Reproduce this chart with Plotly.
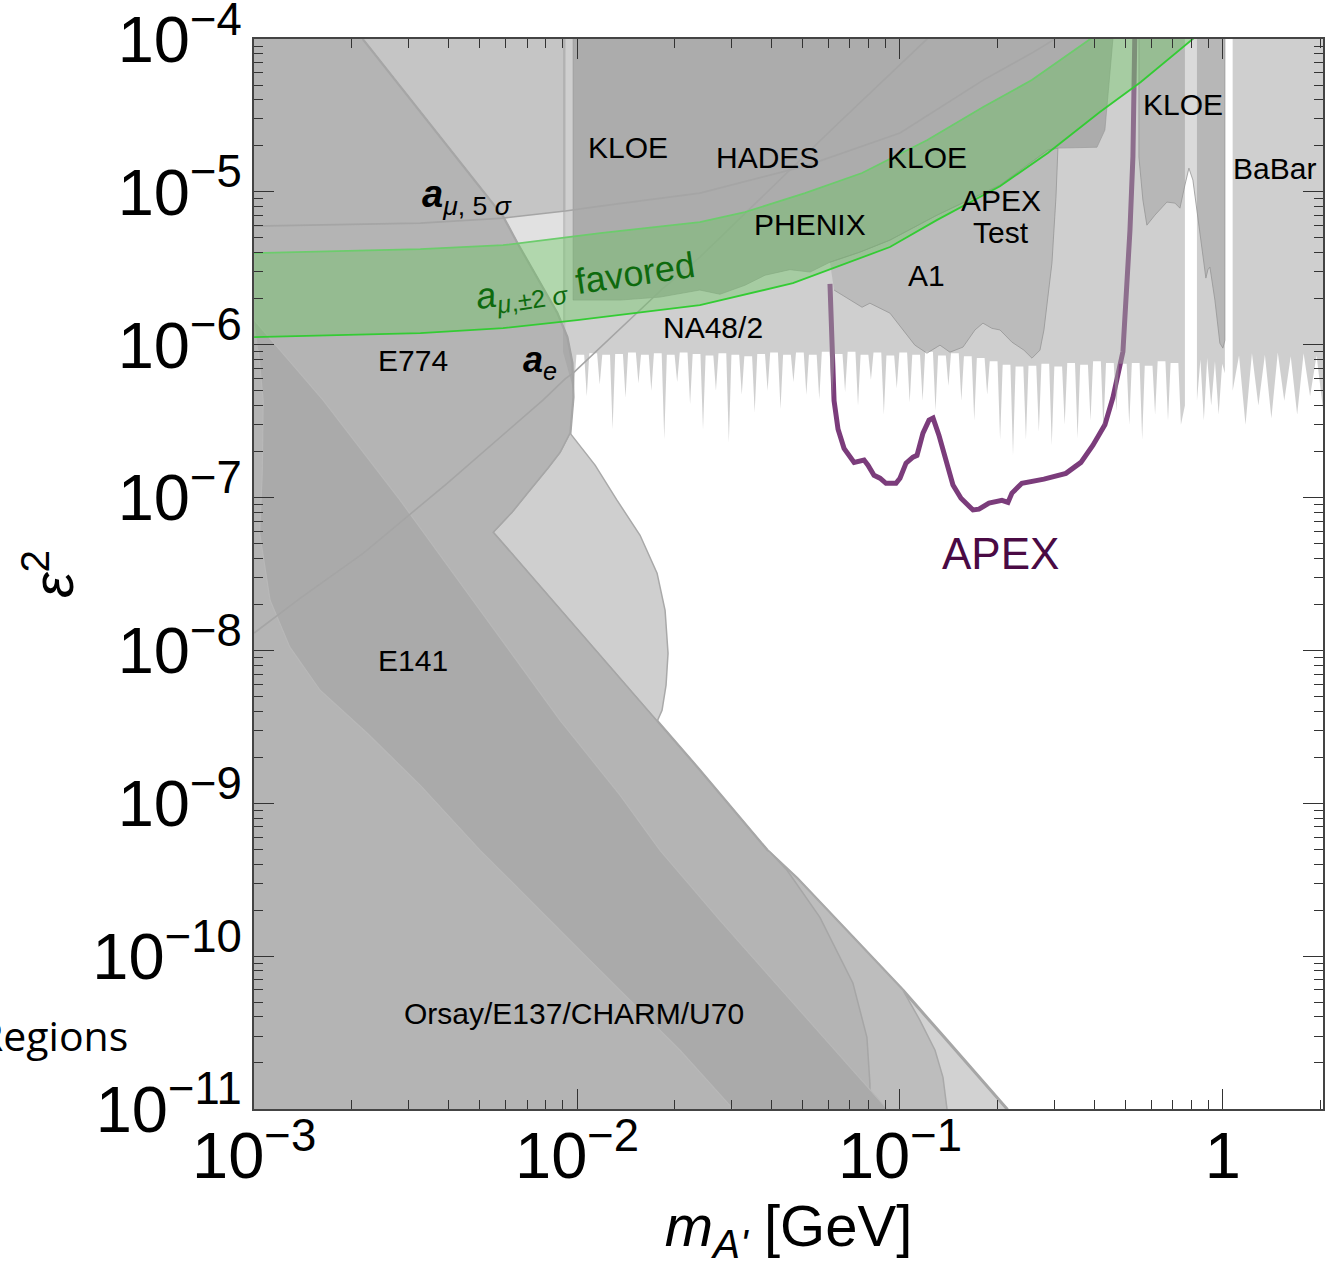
import math
import plotly.graph_objects as go

# ---------------- data (m in GeV, eps^2) ----------------
# APEX projected reach
apex_m = [0.0607, 0.0625, 0.0643, 0.0671, 0.0721, 0.0774, 0.0796, 0.0831, 0.0867, 0.0905,
          0.0972, 0.1, 0.1044, 0.1097, 0.1129, 0.1178, 0.1230, 0.1266, 0.1320, 0.1378,
          0.1459, 0.1545, 0.1683, 0.1756, 0.1886, 0.2069, 0.2160, 0.2222, 0.2385, 0.2791,
          0.3265, 0.3634, 0.3959, 0.4311, 0.4564, 0.4902, 0.5154, 0.5265, 0.5341]
apex_eps2 = [2.5e-6, 4.3e-7, 2.8e-7, 2.1e-7, 1.70e-7, 1.76e-7, 1.63e-7, 1.40e-7, 1.34e-7, 1.24e-7,
             1.24e-7, 1.34e-7, 1.68e-7, 1.84e-7, 1.89e-7, 2.64e-7, 3.21e-7, 3.31e-7, 2.56e-7, 1.84e-7,
             1.21e-7, 9.9e-8, 8.3e-8, 8.4e-8, 9.2e-8, 9.6e-8, 9.3e-8, 1.07e-7, 1.24e-7, 1.32e-7,
             1.44e-7, 1.70e-7, 2.20e-7, 3.0e-7, 4.5e-7, 9.0e-7, 5.6e-6, 1.7e-5, 1.2e-4]

# a_e boundary
ae_m = [1.0e-3, 1.39e-3, 2.18e-3, 3.96e-3, 7.84e-3, 9.2e-3, 9.72e-3, 0.0185, 0.0240, 0.0625, 0.1212, 0.15]
ae_eps2 = [1.30e-8, 2.20e-8, 4.33e-8, 1.24e-7, 4.34e-7, 6.0e-7, 6.52e-7, 2.35e-6, 3.74e-6, 2.65e-5, 1.0e-4, 1.5e-4]

# a_mu 5 sigma boundary
amu5_m = [1.0e-3, 3.27e-3, 5.90e-3, 9.2e-3, 0.0118, 0.0240, 0.0508, 0.100, 0.181, 0.256, 0.336]
amu5_eps2 = [5.97e-6, 6.25e-6, 6.74e-6, 7.5e-6, 8.07e-6, 9.82e-6, 1.475e-5, 2.43e-5, 5.39e-5, 8.10e-5, 1.15e-4]

# a_mu +-2 sigma favoured band
amu_up_m = [1.0e-3, 3.27e-3, 5.90e-3, 0.0118, 0.0240, 0.0331, 0.0508, 0.0763, 0.1212, 0.181, 0.256, 0.396]
amu_up_eps2 = [3.98e-6, 4.22e-6, 4.48e-6, 5.38e-6, 6.34e-6, 7.37e-6, 9.82e-6, 1.33e-5, 2.18e-5, 3.59e-5, 5.39e-5, 1.03e-4]
amu_lo_m = [1.0e-3, 3.27e-3, 5.90e-3, 0.0100, 0.0240, 0.0466, 0.0931, 0.130, 0.204, 0.287, 0.416, 0.557, 0.813]
amu_lo_eps2 = [1.12e-6, 1.19e-6, 1.285e-6, 1.45e-6, 1.815e-6, 2.53e-6, 4.36e-6, 6.54e-6, 1.09e-5, 1.795e-5, 3.33e-5, 5.24e-5, 1.015e-4]

# E774 edge (upper right side, then lower side)
e774_m = [2.13e-3, 2.175e-3, 3.58e-3, 5.90e-3, 6.52e-3, 7.68e-3, 8.67e-3, 9.31e-3, 9.65e-3, 9.72e-3, 9.51e-3,
          8.86e-3, 8.13e-3, 7.15e-3, 6.29e-3, 5.50e-3]
e774_eps2 = [1.1e-4, 9.85e-5, 2.62e-5, 6.84e-6, 4.62e-6, 2.53e-6, 1.61e-6, 1.12e-6, 7.58e-7, 4.54e-7, 2.64e-7,
             1.98e-7, 1.56e-7, 1.12e-7, 8.02e-8, 5.94e-8]

# beam dump outer edge (Orsay/E137/CHARM/U70)
dump_m = [8.86e-3, 0.01459, 0.0240, 0.0388, 0.0480, 0.0715, 0.1022, 0.1398, 0.2145, 0.23]
dump_eps2 = [1.86e-8, 5.49e-9, 1.64e-9, 4.92e-10, 3.23e-10, 1.33e-10, 5.97e-11, 2.81e-11, 1.0e-11, 5e-12]
dump_mid_m = [0.1153, 0.1284, 0.1359, 0.1398, 0.1398]
dump_mid_eps2 = [3.8e-11, 2.42e-11, 1.61e-11, 1.0e-11, 5e-12]
dump_in_m = [0.0396, 0.0447, 0.0565, 0.0715, 0.0790, 0.0807, 0.0807]
dump_in_eps2 = [4.78e-10, 3.64e-10, 1.79e-10, 6.64e-11, 2.94e-11, 1.47e-11, 5e-12]

# E141 outer bulge
e141_m = [9.51e-3, 0.01137, 0.01329, 0.01567, 0.01769, 0.01873, 0.01913, 0.01886, 0.01833, 0.01683,
          0.01358, 7.68e-3, 5.50e-3]
e141_eps2 = [2.64e-7, 1.63e-7, 9.62e-8, 5.67e-8, 3.20e-8, 1.83e-8, 9.59e-9, 5.92e-9, 4.06e-9, 2.70e-9,
             1.91e-9, 4.72e-9, 5.94e-8]

# E141 inner band
band_m = [1.0e-3, 1.635e-3, 2.83e-3, 5.01e-3, 8.86e-3, 0.01358, 0.01807, 0.0277, 0.0490, 0.0912, 0.095,
          0.029, 0.0304, 0.02084, 0.01178, 6.66e-3, 5.01e-3, 3.27e-3, 2.24e-3, 1.60e-3, 1.29e-3, 1.12e-3,
          1.04e-3, 1.06e-3, 1.066e-3, 1.03e-3]
band_eps2 = [1.45e-6, 4.34e-7, 9.62e-8, 1.83e-8, 3.49e-9, 1.13e-9, 4.92e-10, 1.71e-10, 4.42e-11, 1.0e-11, 5e-12,
             5e-12, 1.0e-11, 2.42e-11, 8.07e-11, 2.70e-10, 4.92e-10, 1.31e-9, 2.87e-9, 5.49e-9, 1.05e-8, 2.13e-8,
             5.85e-8, 1.51e-7, 4.34e-7, 9.22e-7]

# NA48/2 (and e+e-) lower spiky edge: spike tips and the plateau points between them
na48_tip_m = [0.009772, 0.010715, 0.011749, 0.012882, 0.014125, 0.015488, 0.016982, 0.018621, 0.020417, 0.022387,
              0.024547, 0.026915, 0.029512, 0.032359, 0.035481, 0.038905, 0.042658, 0.046774, 0.051286, 0.056234,
              0.061660, 0.067608, 0.074131, 0.081283, 0.089125, 0.097724, 0.10715, 0.11749, 0.12882, 0.14125,
              0.15488, 0.16982, 0.18621, 0.20417, 0.22387, 0.24547, 0.26915, 0.29512, 0.32359, 0.35481,
              0.38905, 0.42658, 0.46774, 0.51286, 0.56234, 0.61660, 0.67608, 0.74131]
na48_tip_eps2 = [5.0e-7, 4.6e-7, 5.5e-7, 2.8e-7, 4.5e-7, 5.6e-7, 5.0e-7, 2.4e-7, 5.7e-7, 4.1e-7,
                 2.8e-7, 5.0e-7, 2.3e-7, 4.7e-7, 3.6e-7, 5.0e-7, 3.8e-7, 5.7e-7, 4.7e-7, 4.4e-7,
                 4.5e-7, 4.9e-7, 4.0e-7, 5.9e-7, 3.5e-7, 5.2e-7, 4.2e-7, 4.3e-7, 3.7e-7, 5.4e-7,
                 4.3e-7, 3.2e-7, 4.7e-7, 2.4e-7, 1.9e-7, 2.4e-7, 2.7e-7, 2.2e-7, 3.0e-7, 2.45e-7,
                 3.2e-7, 2.8e-7, 3.7e-7, 3.0e-7, 2.4e-7, 3.5e-7, 3.2e-7, 3.0e-7]
na48_base_lo_m = [0.009954, 0.010915, 0.011968, 0.013123, 0.014388, 0.015777, 0.017299, 0.018967, 0.020798, 0.022804,
                  0.025005, 0.027417, 0.030062, 0.032962, 0.036143, 0.039629, 0.043452, 0.047645, 0.052241, 0.057281,
                  0.062807, 0.068868, 0.075512, 0.082797, 0.090784, 0.09954, 0.10915, 0.11968, 0.13123, 0.14388,
                  0.15777, 0.17299, 0.18967, 0.20798, 0.22804, 0.25005, 0.27417, 0.30062, 0.32962, 0.36143,
                  0.39629, 0.43452, 0.47645, 0.52241, 0.57281, 0.62807, 0.68868]
na48_base_hi_m = [0.010520, 0.011535, 0.012648, 0.013868, 0.015206, 0.016673, 0.018281, 0.020045, 0.021979, 0.024099,
                  0.026424, 0.028974, 0.031769, 0.034833, 0.038195, 0.041879, 0.045920, 0.050350, 0.055208, 0.060533,
                  0.066374, 0.072779, 0.079799, 0.087497, 0.095939, 0.10520, 0.11535, 0.12648, 0.13868, 0.15206,
                  0.16673, 0.18281, 0.20045, 0.21979, 0.24099, 0.26424, 0.28974, 0.31769, 0.34833, 0.38195,
                  0.41879, 0.45920, 0.50350, 0.55208, 0.60533, 0.66374, 0.72779]
na48_base_eps2 = [8.6e-7, 8.8e-7, 8.6e-7, 8.7e-7, 8.9e-7, 8.6e-7, 8.8e-7, 8.6e-7, 8.9e-7, 8.7e-7,
                  8.5e-7, 8.8e-7, 8.6e-7, 8.4e-7, 8.7e-7, 8.9e-7, 8.6e-7, 8.9e-7, 8.6e-7, 9.0e-7,
                  8.7e-7, 9.0e-7, 8.6e-7, 8.9e-7, 8.5e-7, 8.9e-7, 8.6e-7, 9.0e-7, 8.5e-7, 8.8e-7,
                  8.4e-7, 8.2e-7, 7.8e-7, 7.4e-7, 7.2e-7, 7.3e-7, 7.5e-7, 7.2e-7, 7.6e-7, 7.4e-7,
                  7.8e-7, 7.6e-7, 7.5e-7, 7.6e-7, 7.3e-7, 7.8e-7, 7.6e-7]
kloe_gap_m = [0.831, 0.852, 0.873, 0.894, 0.920, 0.945, 0.970, 0.995, 1.0144]
kloe_gap_eps2 = [4.3e-7, 8.0e-7, 3.2e-7, 8.2e-7, 4.0e-7, 7.8e-7, 3.5e-7, 7.5e-7, 6.5e-7]
babar_m = [1.072, 1.122, 1.175, 1.230, 1.288, 1.349, 1.413, 1.479, 1.549, 1.622, 1.698, 1.778, 1.862, 1.950, 2.042, 2.138]
babar_eps2 = [5e-7, 8.5e-7, 3.0e-7, 8.8e-7, 4.0e-7, 8.6e-7, 3.3e-7, 8.9e-7, 4.3e-7, 8.4e-7, 3.5e-7, 8.8e-7, 4.6e-7, 8.5e-7, 3.8e-7, 8.7e-7]

# KLOE / HADES / PHENIX upper region lower edge
top_m = [0.00972, 0.01358, 0.01807, 0.0240, 0.0277, 0.0331, 0.0382, 0.0456, 0.0527, 0.0607, 0.0752,
         0.0931, 0.1302, 0.204, 0.2872, 0.3084, 0.4074, 0.4311, 0.4564]
top_eps2 = [1.96e-6, 1.96e-6, 2.05e-6, 2.28e-6, 2.14e-6, 2.45e-6, 2.85e-6, 3.10e-6, 2.99e-6, 3.47e-6, 4.04e-6,
            4.84e-6, 7.05e-6, 1.108e-5, 1.88e-5, 1.935e-5, 1.96e-5, 2.54e-5, 1.0e-4]
# A1 / APEX test lower edge (right to left)
a1_m = [0.3041, 0.2955, 0.2791, 0.2713, 0.2563, 0.2420, 0.2222, 0.204, 0.1927, 0.1807, 0.1707, 0.1567,
        0.1428, 0.1330, 0.1212, 0.1112, 0.1, 0.0931, 0.0807, 0.0763, 0.0625]
a1_eps2 = [9.25e-6, 3.42e-6, 1.25e-6, 9.22e-7, 8.17e-7, 9.22e-7, 1.04e-6, 1.25e-6, 1.28e-6, 1.385e-6, 1.25e-6,
           9.65e-7, 8.94e-7, 9.94e-7, 8.81e-7, 9.94e-7, 1.34e-6, 1.61e-6, 1.87e-6, 1.76e-6, 2.28e-6]
# KLOE (high mass) lower edge
kloe_m = [0.5495, 0.5495, 0.5653, 0.5816, 0.6160, 0.6708, 0.7101, 0.7362, 0.7627, 0.7847, 0.8074, 0.8487,
          0.8858, 0.8987, 0.9117, 0.9446, 0.9788, 1.0, 1.0144, 1.0144]
kloe_eps2 = [1.2e-4, 1.69e-5, 8.84e-6, 6.06e-6, 7.05e-6, 8.58e-6, 8.45e-6, 7.83e-6, 1.108e-5, 1.43e-5, 1.195e-5,
             5.62e-6, 2.73e-6, 3.10e-6, 3.22e-6, 1.96e-6, 1.024e-6, 9.5e-7, 1.07e-6, 1.2e-4]

assert len(na48_tip_m) == len(na48_tip_eps2) == len(na48_base_eps2) + 1
assert len(na48_base_lo_m) == len(na48_base_hi_m) == len(na48_base_eps2)
assert len(band_m) == len(band_eps2)
assert len(apex_m) == len(apex_eps2)

# labels: (text, m, eps2)
labels = [("KLOE", 0.01439, 1.96e-5), ("HADES", 0.0388, 1.69e-5), ("KLOE", 0.1212, 1.69e-5),
          ("KLOE", 0.752, 3.75e-5), ("BaBar", 1.449, 1.43e-5), ("APEX", 0.2054, 8.84e-6),
          ("Test", 0.2054, 5.46e-6), ("PHENIX", 0.0527, 6.16e-6), ("A1", 0.1206, 2.85e-6),
          ("NA48/2", 0.02636, 1.30e-6), ("E774", 3.11e-3, 7.9e-7), ("E141", 3.11e-3, 8.63e-9),
          ("Orsay/E137/CHARM/U70", 9.79e-3, 4.22e-11)]

TOP = 1.2e-4
LEFT = 9.0e-4
BOT = 5e-12

# assemble the spiky NA48/2 edge from its tips and plateaus
na48_m, na48_eps2 = [], []
for j in range(len(na48_base_eps2)):
    na48_m += [na48_tip_m[j], na48_base_lo_m[j], na48_base_hi_m[j]]
    na48_eps2 += [na48_tip_eps2[j], na48_base_eps2[j], na48_base_eps2[j]]
na48_m.append(na48_tip_m[-1])
na48_eps2.append(na48_tip_eps2[-1])

fig = go.Figure()


def poly(xs, ys, fill, lc="rgba(0,0,0,0)", lw=0.0):
    fig.add_trace(go.Scatter(x=xs, y=ys, mode="lines", fill="toself", fillcolor=fill,
                             line=dict(color=lc, width=lw), hoverinfo="skip", showlegend=False))


def line(xs, ys, color, width, dash=None):
    fig.add_trace(go.Scatter(x=xs, y=ys, mode="lines",
                             line=dict(color=color, width=width, dash=dash),
                             hoverinfo="skip", showlegend=False))


# APEX reach (drawn first, it sits under the translucent regions)
line(apex_m, apex_eps2, "#7b3c7b", 5)

# a_e region (above the a_e curve)
ae_cut = [i for i, m in enumerate(ae_m) if m <= 9.2e-3]
poly([LEFT] + [ae_m[i] for i in ae_cut] + [9.2e-3, LEFT],
     [ae_eps2[0]] + [ae_eps2[i] for i in ae_cut] + [TOP, TOP], "#e1e1e1")
# a_mu 5 sigma region
s_cut = [i for i, m in enumerate(amu5_m) if m <= 9.2e-3]
poly([LEFT] + [amu5_m[i] for i in s_cut] + [9.2e-3, LEFT],
     [amu5_eps2[0]] + [amu5_eps2[i] for i in s_cut] + [TOP, TOP], "#c5c5c5")

# beam dump: outer sliver, middle sliver, main region
poly([LEFT] + e774_m + dump_m + [LEFT], [TOP] + e774_eps2 + dump_eps2 + [BOT],
     "#d2d2d2", "#a6a6a6", 3)
poly(e141_m, e141_eps2, "#cfcfcf", "#a9a9a9", 1.5)
poly([LEFT] + e774_m + dump_m[:7] + dump_mid_m + [LEFT],
     [TOP] + e774_eps2 + dump_eps2[:7] + dump_mid_eps2 + [BOT], "#bdbdbd", "#a9a9a9", 1.5)
poly([LEFT] + e774_m + dump_m[:4] + dump_in_m + [LEFT],
     [TOP] + e774_eps2 + dump_eps2[:4] + dump_in_eps2 + [BOT], "#b4b4b4", "#a6a6a6", 1.5)
poly(band_m, band_eps2, "#aaaaaa", "#b8b8b8", 1.2)

# NA48/2 & e+e- light regions (translucent)
poly([9.05e-3, 9.05e-3] + na48_m + [0.7627, 0.7627], [TOP, 9.0e-7] + na48_eps2 + [4.0e-7, TOP],
     "rgba(160,160,160,0.5)")
poly([0.831] + kloe_gap_m + [1.0144], [TOP] + kloe_gap_eps2 + [TOP], "rgba(160,160,160,0.5)")
poly([1.072] + babar_m + [2.138], [TOP] + babar_eps2 + [TOP], "rgba(160,160,160,0.5)")

# KLOE / HADES / PHENIX region
poly([top_m[0]] + top_m + [top_m[-1]], [TOP] + top_eps2 + [TOP],
     "rgba(120,120,120,0.40)", "rgba(150,150,150,0.6)", 1)
# A1 / APEX test region
poly(top_m[9:16] + a1_m, top_eps2[9:16] + a1_eps2, "rgba(120,120,120,0.22)", "rgba(150,150,150,0.8)", 1)
# KLOE high mass
poly(kloe_m, kloe_eps2, "rgba(120,120,120,0.27)", "rgba(150,150,150,0.8)", 1)

# boundary curves on top
line(amu5_m, amu5_eps2, "rgba(165,165,165,1)", 1.6)
line(ae_m, ae_eps2, "rgba(165,165,165,1)", 1.6)

# a_mu favoured band
poly(amu_up_m + amu_lo_m[::-1], amu_up_eps2 + amu_lo_eps2[::-1], "rgba(100,200,90,0.38)")
line(amu_up_m, amu_up_eps2, "#6ccc6c", 1.8)
line(amu_lo_m, amu_lo_eps2, "#33cc33", 1.8)

L10 = math.log10
ann = []
for t, m, e in labels:
    ann.append(dict(x=L10(m), y=L10(e), xref="x", yref="y", text=t, showarrow=False,
                    font=dict(size=30, color="black", family="Liberation Sans")))
ann.append(dict(x=L10(4.56e-3), y=L10(9.25e-6), xref="x", yref="y", showarrow=False,
                text="<b><i>a</i></b><sub><i>μ</i>, 5 <i>σ</i></sub>",
                font=dict(size=38, color="black", family="Liberation Sans")))
ann.append(dict(x=L10(7.68e-3), y=L10(7.7e-7), xref="x", yref="y", showarrow=False,
                text="<b><i>a</i></b><sub><i>e</i></sub>",
                font=dict(size=36, color="black", family="Liberation Sans")))
ann.append(dict(x=L10(0.01059), y=L10(2.53e-6), xref="x", yref="y", showarrow=False, textangle=-8.5,
                text="<i>a</i><sub><i>μ</i>,±2 <i>σ</i></sub> favored",
                font=dict(size=36, color="#0e6a0e", family="Liberation Sans")))
ann.append(dict(x=L10(0.2054), y=L10(4.33e-8), xref="x", yref="y", showarrow=False, text="APEX",
                font=dict(size=44, color="#4a0a44", family="Liberation Sans")))
ann.append(dict(x=-0.116, y=0.069, xref="paper", yref="paper", showarrow=False, text="Regions",
                xanchor="right", yanchor="middle",
                font=dict(size=41, color="black", family="Open Sans")))

axis_common = dict(type="log", showgrid=False, zeroline=False, ticks="inside", ticklen=20,
                   tickwidth=1.2, tickcolor="#333333", showline=True, linecolor="#444444",
                   linewidth=1.5, dtick=1, exponentformat="power", ticklabeloverflow="allow",
                   automargin=False,
                   minor=dict(ticks="inside", ticklen=9, tickwidth=1, tickcolor="#333333",
                              dtick="D1", showgrid=False))

fig.update_layout(
    width=1335, height=1267,
    margin=dict(l=254, r=12, t=39, b=158, autoexpand=False),
    paper_bgcolor="white", plot_bgcolor="white",
    font=dict(family="Liberation Sans", color="black"),
    annotations=ann,
    xaxis=dict(**axis_common, range=[-3.0005, 0.31], ticklabelstandoff=-8,
               tickfont=dict(size=52, family="Liberation Sans"),
               title=dict(text="<i>m</i><sub><i>A'</i></sub> [GeV]", standoff=32,
                          font=dict(size=58, family="Liberation Sans"))),
    yaxis=dict(**axis_common, range=[-11.0005, -3.9995],
               tickfont=dict(size=52, family="Liberation Sans"),
               title=dict(text="<i>ε</i><sup>2</sup>", standoff=0,
                          font=dict(size=58, family="Liberation Sans"))),
    xaxis2=dict(**axis_common, range=[-3.0005, 0.31], overlaying="x", side="top", showticklabels=False),
    yaxis2=dict(**axis_common, range=[-11.0005, -3.9995], overlaying="y", side="right", showticklabels=False),
)
fig.add_trace(go.Scatter(x=[1e-3], y=[1e-11], xaxis="x2", yaxis="y2", mode="markers",
                         marker=dict(opacity=0), hoverinfo="skip", showlegend=False))

fig.write_html("out.html")
